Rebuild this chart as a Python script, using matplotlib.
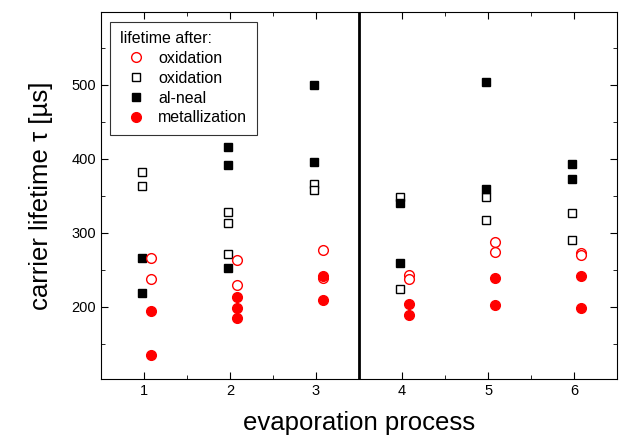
import numpy as np
import matplotlib.pyplot as plt
from matplotlib.ticker import MultipleLocator

plt.rcParams['font.family'] = ['Liberation Sans', 'DejaVu Sans']

# process numbers and lifetime values (us)
proc_open_circ = [1, 1, 2, 2, 3, 3, 4, 4, 5, 5, 6, 6]
tau_open_circ = [266, 237, 263, 229, 276, 239, 243, 237, 287, 274, 272, 270]

proc_open_sq = [1, 1, 2, 2, 2, 3, 3, 4, 4, 5, 5, 6, 6]
tau_open_sq = [382, 363, 328, 313, 271, 366, 358, 348, 224, 348, 317, 327, 290]

proc_fill_sq = [1, 1, 2, 2, 2, 3, 3, 4, 4, 5, 5, 6, 6]
tau_fill_sq = [265, 219, 416, 391, 252, 500, 395, 340, 259, 503, 359, 393, 373]

proc_fill_circ = [1, 1, 2, 2, 2, 3, 3, 4, 4, 5, 5, 6, 6]
tau_fill_circ = [194, 135, 213, 198, 184, 242, 209, 204, 189, 238, 202, 241, 198]

xticks = [1, 2, 3, 4, 5, 6]
yticks = [200, 300, 400, 500]

sq_shift = -0.02
circ_shift = 0.08

fig = plt.figure(figsize=(6.19, 4.45), dpi=100)
ax = fig.add_axes([0.163, 0.148, 0.834, 0.825])

ax.plot(np.array(proc_open_sq) + sq_shift, tau_open_sq, 's', ls='none', ms=6,
        mfc='white', mec='black', mew=1.0, label='oxidation', zorder=3)
ax.plot(np.array(proc_fill_sq) + sq_shift, tau_fill_sq, 's', ls='none', ms=6,
        mfc='black', mec='black', label='al-neal', zorder=3)
ax.plot(np.array(proc_open_circ) + circ_shift, tau_open_circ, 'o', ls='none', ms=7,
        mfc='white', mec='red', mew=1.0, label='oxidation', zorder=4)
ax.plot(np.array(proc_fill_circ) + circ_shift, tau_fill_circ, 'o', ls='none', ms=7,
        mfc='red', mec='red', label='metallization', zorder=4)

ax.axvline(3.5, color='black', lw=2)

ax.set_xlim(0.5, 6.5)
ax.set_ylim(102, 598)
ax.set_xticks(xticks)
ax.set_yticks(yticks)
ax.xaxis.set_minor_locator(MultipleLocator(0.5))
ax.yaxis.set_minor_locator(MultipleLocator(50))
ax.tick_params(which='both', direction='in', top=True, right=True, labelsize=10.5)
ax.tick_params(which='major', length=5)
ax.tick_params(which='minor', length=3)

ax.set_xlabel('evaporation process', fontsize=18.5, labelpad=9)
ax.set_ylabel('carrier lifetime τ [µs]', fontsize=18.5, labelpad=13)

h, l = ax.get_legend_handles_labels()
order = [2, 0, 1, 3]
leg = ax.legend([h[i] for i in order], [l[i] for i in order], title='lifetime after:',
                loc='upper left', fontsize=11.5, title_fontsize=11.5, frameon=True,
                fancybox=False, edgecolor='black', alignment='left',
                handletextpad=0.4, borderpad=0.6, labelspacing=0.3,
                borderaxespad=0.6)
leg.get_frame().set_linewidth(0.8)

fig.savefig('out.png', dpi=100)
